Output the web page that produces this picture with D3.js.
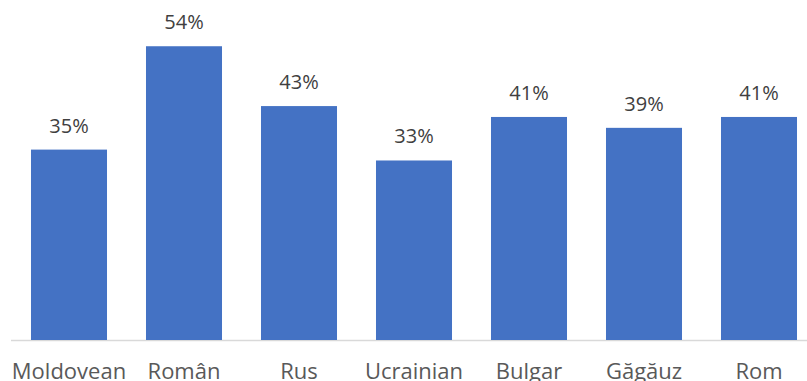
<!DOCTYPE html>
<html><head><meta charset="utf-8">
<script src="https://cdn.jsdelivr.net/npm/d3@7"></script>
<style>body{margin:0;background:#fff}svg{display:block}</style>
</head><body>
<svg id="c" width="807" height="381"></svg>
<script>
const categories = ["Moldovean","Român","Rus","Ucrainian","Bulgar","Găgăuz","Rom"];
const values = [35,54,43,33,41,39,41];

const svg = d3.select("#c");
const baseY = 340, topY = 13.6;
const x = d3.scaleBand().domain(categories).range([11.5, 816.5]).paddingInner(0.339).paddingOuter(0.1695);
const y = d3.scaleLinear().domain([0,60]).range([baseY, topY]);

svg.append("line").attr("x1",11).attr("x2",807).attr("y1",baseY+0.5).attr("y2",baseY+0.5)
  .attr("stroke","#d9d9d9").attr("stroke-width",1.5);

svg.selectAll("rect.bar").data(values).join("rect").attr("class","bar")
  .attr("x",(d,i)=>x(categories[i])).attr("width",x.bandwidth())
  .attr("y",d=>y(d)).attr("height",d=>baseY-y(d)).attr("fill","#4472c4");

svg.selectAll("text.val").data(values).join("text").attr("class","val")
  .attr("x",(d,i)=>x(categories[i])+x.bandwidth()/2).attr("y",d=>y(d)-17)
  .attr("text-anchor","middle").attr("font-family","'Open Sans', sans-serif").attr("font-size",20)
  .attr("fill","#404040").text(d=>d+"%");

const ax = d3.axisBottom(x).tickSize(0).tickPadding(0);
const g = svg.append("g").attr("transform",`translate(0,${baseY})`).call(ax);
g.select(".domain").remove();
g.selectAll("text").attr("y",39).attr("dy",0).attr("font-family","'Open Sans', sans-serif")
  .attr("font-size",22).attr("fill","#595959");
</script>
</body></html>
